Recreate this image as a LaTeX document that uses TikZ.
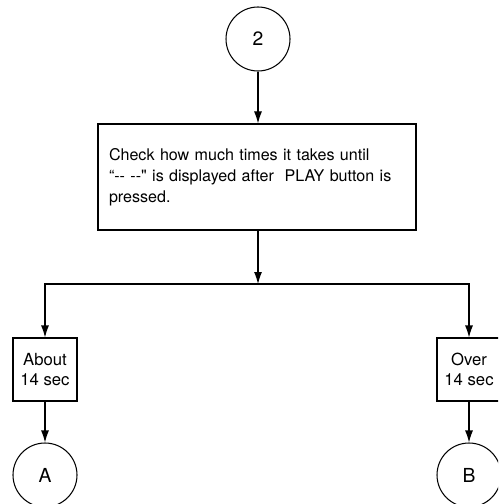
\documentclass[tikz,border=0pt]{standalone}
\usepackage{fontspec}
\setmainfont{TeX Gyre Heros}[Ligatures=TeXOff]
\usepackage{tikz}
\usetikzlibrary{arrows.meta,positioning,calc}

\begin{document}
\begin{tikzpicture}[
    connector/.style={circle, draw, line width=0.6pt,
        minimum size=1.28cm, inner sep=0pt,
        font=\fontsize{11}{13}\selectfont},
    box/.style={rectangle, draw, line width=0.6pt,
        align=center, font=\fontsize{9.5}{11.3}\selectfont},
    textbox/.style={box, align=left, text width=5.92cm,
        inner sep=0.22cm, minimum height=2.12cm,
        font=\fontsize{9.15}{11.9}\selectfont},
    smallbox/.style={box, minimum width=1.28cm, minimum height=1.26cm,
        inner sep=1pt},
    arrow/.style={-{Latex[length=2.4mm,width=1.6mm]}, line width=0.6pt}
]
\clip (0,0) rectangle (9.96,-10.08);
\useasboundingbox (0,0) rectangle (9.96,-10.08);

% Entry
\node[connector] (start) at (5.16, -0.78) {2};

% Check
\node[textbox] (check) at (5.14, -3.54) {Check how much times it takes until\\
“-- --" is displayed after\ \ PLAY button is\\
pressed.};

% Branch point
\coordinate (split) at (5.16, -5.68);

% Results
\node[smallbox] (about) at (0.9, -7.39) {About\\14 sec};
\node[smallbox] (over) at (9.38, -7.39) {Over\\14 sec};

% Exits
\node[connector] (exitA) at (0.9, -9.5) {A};
\node[connector] (exitB) at (9.38, -9.5) {B};

% Arrows
\draw[arrow] (start) -- (start |- check.north);
\draw[arrow] (check.south -| split) -- (split);
\draw[arrow] (split) -| (about.north);
\draw[arrow] (split) -| (over.north);
\draw[arrow] (about) -- (exitA);
\draw[arrow] (over) -- (exitB);

\end{tikzpicture}
\end{document}
